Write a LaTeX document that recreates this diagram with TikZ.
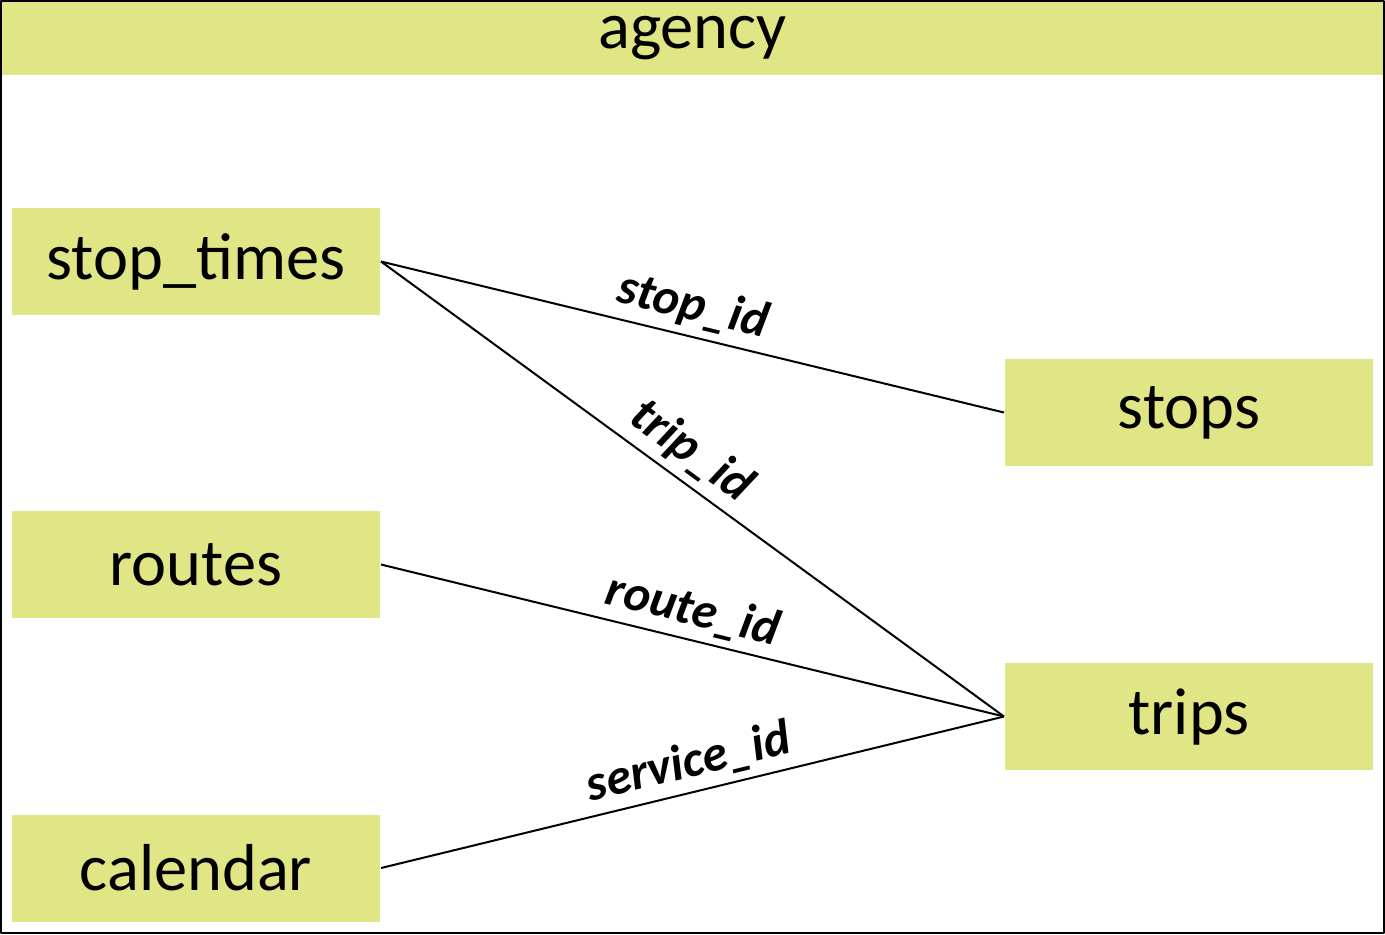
\documentclass[tikz,border=0pt]{standalone}
\usepackage{fontspec}
\setmainfont{Carlito}
\definecolor{tablefill}{RGB}{224,230,134}

\begin{document}
\begin{tikzpicture}[x=0.5pt, y=-0.5pt, line width=1pt, line join=round,
    tablebox/.style={fill=tablefill, minimum width=184pt, minimum height=53.5pt,
      inner sep=0pt, font=\fontsize{33.2}{39}\selectfont},
    keylabel/.style={sloped, above, inner sep=3.5pt,
      font=\fontsize{25.2}{30}\selectfont\bfseries\itshape}]
  \useasboundingbox (0,0) rectangle (1385,934);
  \node[tablebox, minimum width=691.5pt, minimum height=37pt] (agency) at (692.5,38) {agency}; % header bar
  \node[tablebox] (stoptimes) at (196,261.5) {stop\_times};
  \node[tablebox] (routes)    at (196,564.5) {routes};
  \node[tablebox] (calendar)  at (196,868)   {calendar};
  \node[tablebox] (stops)     at (1189,412.5) {stops};
  \node[tablebox] (trips)     at (1189,716.5) {trips};
  \foreach \a/\b/\p/\k in {stoptimes/stops/0.49/stop\_id, stoptimes/trips/0.47/trip\_id,
                           routes/trips/0.49/route\_id, calendar/trips/0.505/service\_id} {
    \draw (\a.east) -- (\b.west) node[keylabel, pos=\p] {\k}; % key links
  }
  \draw (1,1) rectangle (1384,933);                          % outer frame
\end{tikzpicture}
\end{document}
